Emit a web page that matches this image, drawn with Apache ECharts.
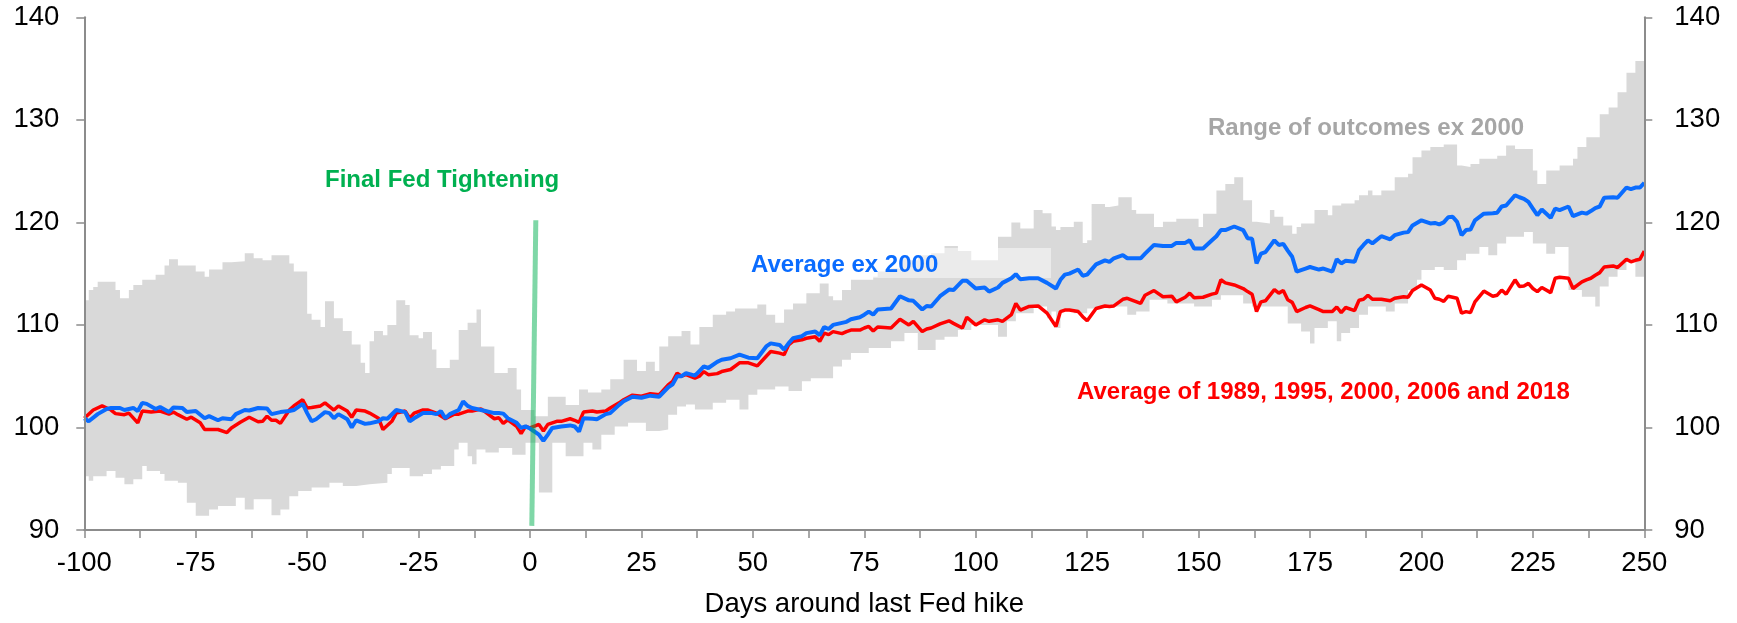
<!DOCTYPE html>
<html>
<head>
<meta charset="utf-8">
<script src="https://cdn.jsdelivr.net/npm/echarts@6/dist/echarts.min.js"></script>
<style>
html,body{margin:0;padding:0;background:#fff;}
#chart{width:1737px;height:623px;}
</style>
</head>
<body>
<div id="chart"></div>
<script>
// x-axis tick labels (days around last Fed hike)
var xTicks = [-100,-75,-50,-25,0,25,50,75,100,125,150,175,200,225,250];
var yTicks = [90,100,110,120,130,140];

// Average ex 2000 (blue) : [day, index]
var avgEx2000 = [[-100,100.9],[-99,100.6],[-97,101.3],[-95,101.8],[-94,101.9],[-92,101.9],[-91,101.7],[-89,101.9],[-88,101.6],[-87,102.4],[-86,102.3],[-84,101.8],[-83,102.0],[-81,101.5],[-80,101.95],[-78,101.9],[-77,101.5],[-75,101.6],[-73,100.9],[-72,101.1],[-70,100.7],[-69,100.9],[-67,100.8],[-66,101.3],[-64,101.7],[-63,101.65],[-61,101.9],[-59,101.85],[-58,101.3],[-56,101.5],[-54,101.6],[-53,101.7],[-51,102.3],[-50,101.4],[-49,100.6],[-48,100.8],[-46,101.5],[-45,101.4],[-44,100.9],[-43,101.3],[-41,100.8],[-40,100.0],[-39,100.7],[-37,100.35],[-36,100.4],[-34,100.6],[-33,100.9],[-32,100.85],[-30,101.7],[-28,101.5],[-27,100.6],[-26,100.9],[-24,101.4],[-22,101.4],[-21,101.3],[-20,101.6],[-19,100.9],[-18,101.3],[-16,101.7],[-15,102.55],[-14,102.1],[-13,101.9],[-12,101.8],[-10,101.6],[-8,101.4],[-7,101.4],[-6,101.35],[-5,100.9],[-3,100.45],[-2,99.95],[-1,100.1],[0,99.9],[2,99.3],[3,98.7],[4,99.3],[5,99.95],[7,100.1],[9,100.2],[10,100.1],[11,99.6],[12,100.9],[14,100.85],[15,100.8],[17,101.3],[18,101.4],[20,102.2],[21,102.55],[23,103.0],[25,102.9],[27,103.1],[29,103.0],[31,103.9],[32,104.2],[33,105.0],[34,105.0],[35,105.3],[37,105.05],[38,105.5],[39,105.95],[40,105.8],[42,106.4],[43,106.6],[45,106.75],[47,107.1],[49,106.8],[51,106.75],[53,107.9],[54,108.2],[56,108.05],[57,107.6],[58,108.2],[59,108.7],[61,108.9],[62,109.2],[64,109.35],[65,109.0],[66,109.8],[67,109.6],[68,110.0],[70,110.2],[71,110.3],[72,110.55],[74,110.75],[75,111.0],[76,111.3],[77,111.0],[78,111.5],[81,111.6],[83,112.8],[85,112.4],[86,112.35],[88,111.5],[89,111.85],[90,111.8],[92,112.8],[94,113.45],[95,113.4],[97,114.3],[98,114.3],[100,113.55],[102,113.65],[103,113.25],[105,113.65],[106,114.1],[108,114.55],[109,114.95],[110,114.45],[112,114.55],[114,114.55],[116,114.1],[118,113.55],[119,114.4],[120,114.9],[121,115.0],[123,115.4],[124,114.8],[125,114.9],[127,115.9],[129,116.3],[130,116.15],[131,116.5],[133,116.8],[134,116.5],[137,116.5],[138,116.95],[140,117.8],[142,117.7],[144,117.7],[145,118.0],[147,118.0],[148,118.25],[149,117.45],[151,117.45],[153,118.25],[154,118.65],[155,119.25],[156,119.25],[158,119.6],[160,119.25],[161,118.45],[162,118.4],[163,116.0],[164,116.95],[165,117.1],[167,118.25],[168,117.8],[169,117.9],[170,117.25],[171,116.65],[172,115.2],[174,115.5],[175,115.65],[177,115.4],[178,115.5],[180,115.2],[181,116.4],[182,116.0],[183,116.25],[185,116.15],[186,117.3],[187,117.8],[188,118.25],[189,117.95],[191,118.65],[193,118.35],[194,118.75],[196,119.0],[197,119.05],[198,119.7],[200,120.2],[202,119.9],[203,119.95],[204,119.8],[205,120.0],[206,120.5],[207,120.55],[208,120.05],[209,118.75],[210,119.25],[211,119.3],[212,120.2],[214,120.85],[216,120.9],[217,120.95],[218,121.55],[219,121.65],[221,122.65],[222,122.45],[223,122.3],[224,122.0],[225,121.35],[226,120.7],[227,121.25],[229,120.45],[230,121.35],[231,121.2],[233,121.55],[234,120.6],[236,120.95],[237,120.85],[238,121.1],[239,121.4],[240,121.55],[241,122.4],[243,122.45],[244,122.4],[246,123.4],[247,123.25],[248,123.4],[249,123.4],[250,123.85]];

// Average of 1989, 1995, 2000, 2006 and 2018 (red)
var avgAll = [[-100,100.9],[-98,101.7],[-96,102.1],[-94,101.7],[-93,101.35],[-91,101.25],[-90,101.4],[-88,100.45],[-87,101.6],[-85,101.5],[-83,101.6],[-81,101.3],[-80,101.5],[-79,101.25],[-77,100.8],[-76,101.0],[-74,100.45],[-73,99.8],[-71,99.8],[-70,99.8],[-68,99.5],[-67,99.95],[-65,100.5],[-63,101.0],[-61,100.55],[-60,100.6],[-59,101.1],[-58,100.7],[-57,100.7],[-56,100.4],[-54,101.7],[-53,102.1],[-51,102.7],[-50,101.9],[-49,101.95],[-47,102.1],[-46,102.4],[-44,101.7],[-43,102.1],[-41,101.6],[-40,101.0],[-39,101.7],[-37,101.6],[-36,101.4],[-34,100.9],[-33,99.8],[-31,100.6],[-30,101.4],[-28,101.6],[-27,100.9],[-26,101.4],[-24,101.7],[-23,101.7],[-21,101.4],[-19,100.85],[-17,101.3],[-16,101.3],[-14,101.6],[-13,101.6],[-11,101.8],[-10,101.5],[-8,100.85],[-7,100.95],[-6,100.4],[-5,100.75],[-3,100.1],[-2,99.4],[-1,100.1],[0,99.95],[2,100.3],[3,99.65],[4,100.3],[6,100.6],[7,100.6],[9,100.85],[10,100.7],[11,100.5],[12,101.5],[14,101.6],[15,101.5],[17,101.6],[18,101.9],[20,102.4],[21,102.7],[23,103.15],[25,103.05],[27,103.3],[29,103.2],[31,104.15],[32,104.5],[33,105.3],[34,105.0],[35,105.15],[37,104.8],[38,105.0],[39,105.45],[40,105.15],[42,105.25],[43,105.45],[45,105.65],[47,106.3],[49,106.3],[51,106.0],[53,106.95],[54,107.4],[56,107.25],[57,107.1],[58,108.05],[59,108.4],[61,108.55],[62,108.7],[64,108.85],[65,108.4],[66,109.2],[67,109.05],[68,109.35],[70,109.15],[71,109.35],[72,109.5],[74,109.5],[75,109.7],[76,109.85],[77,109.4],[78,109.8],[81,109.7],[83,110.55],[85,110.0],[86,110.35],[88,109.35],[89,109.6],[90,109.7],[92,110.1],[94,110.4],[95,110.15],[97,109.7],[98,110.75],[100,110.0],[102,110.5],[103,110.35],[105,110.5],[106,110.35],[108,111.0],[109,112.1],[110,111.45],[112,111.8],[114,111.85],[116,111.15],[118,109.85],[119,111.3],[120,111.45],[121,111.45],[123,111.3],[124,110.8],[125,110.4],[127,111.6],[129,111.85],[130,111.8],[131,111.85],[133,112.5],[134,112.6],[137,112.1],[138,112.9],[140,113.35],[142,112.75],[144,112.8],[145,112.25],[147,112.7],[148,113.1],[149,112.65],[151,112.7],[153,113.0],[154,113.1],[155,114.4],[156,114.1],[158,113.9],[160,113.55],[161,113.25],[162,113.0],[163,111.3],[164,112.25],[165,112.35],[167,113.45],[168,113.1],[169,113.35],[170,112.45],[171,112.2],[172,111.3],[174,111.7],[175,111.85],[177,111.5],[178,111.3],[180,111.3],[181,111.75],[182,111.2],[183,111.7],[185,111.4],[186,112.4],[187,112.5],[188,112.9],[189,112.5],[191,112.5],[193,112.35],[194,112.6],[196,112.75],[197,112.7],[198,113.35],[200,113.9],[202,113.4],[203,112.6],[204,112.5],[205,112.3],[206,112.8],[207,112.7],[208,112.6],[209,111.15],[210,111.3],[211,111.2],[212,112.25],[214,113.3],[216,112.8],[217,112.9],[218,113.4],[219,113.0],[221,114.4],[222,113.75],[223,113.8],[224,114.05],[225,113.55],[226,113.25],[227,113.65],[229,113.15],[230,114.55],[231,114.65],[233,114.55],[234,113.55],[236,114.2],[237,114.4],[238,114.55],[239,114.85],[240,115.1],[241,115.65],[243,115.75],[244,115.6],[246,116.4],[247,116.15],[248,116.3],[249,116.4],[250,117.2]];

// Range of outcomes ex 2000 : upper edge (value holds from that day until the next)
var rangeHigh = [[-100,112.4],[-99,113.4],[-98,113.7],[-97,114.2],[-93,113.4],[-92,112.6],[-90,113.4],[-89,113.9],[-87,114.4],[-84,114.9],[-82,115.8],[-81,116.4],[-79,115.8],[-75,115.2],[-73,114.7],[-72,115.4],[-69,116.1],[-67,116.2],[-64,117.0],[-62,116.5],[-60,116.3],[-58,116.8],[-54,116.0],[-53,115.2],[-50,111.1],[-49,110.5],[-47,109.8],[-46,112.3],[-44,110.65],[-42,109.4],[-40,108.1],[-38,106.3],[-37,105.3],[-36,108.4],[-35,109.4],[-33,109.0],[-32,110.0],[-30,112.4],[-28,111.95],[-27,109.0],[-25,108.7],[-24,109.3],[-22,107.6],[-21,105.8],[-18,106.6],[-16,109.5],[-14,110.2],[-12,111.5],[-11,107.9],[-8,105.3],[-5,105.8],[-3,103.7],[-2,101.7],[1,101.1],[4,103.0],[8,102.2],[11,103.7],[13,103.4],[16,103.7],[18,104.7],[21,106.6],[24,105.5],[26,106.4],[28,105.5],[29,107.9],[31,108.9],[34,109.4],[36,108.1],[38,109.8],[41,111.0],[44,111.3],[46,111.6],[51,112.0],[53,111.0],[55,110.2],[57,111.5],[59,112.1],[62,113.1],[65,114.05],[67,112.8],[68,112.4],[70,113.4],[72,114.4],[77,114.7],[78,115.2],[81,115.5],[83,116.5],[85,116.3],[87,116.8],[90,117.0],[93,117.7],[96,117.2],[99,116.3],[105,118.6],[108,120.0],[110,119.4],[113,121.2],[115,120.9],[117,119.6],[118,119.25],[119,119.55],[122,120.05],[124,118.0],[125,118.25],[126,121.8],[129,121.5],[130,121.65],[132,122.45],[135,121.2],[136,120.85],[140,119.55],[142,120.05],[145,120.35],[150,119.55],[151,120.85],[154,123.1],[156,123.75],[158,124.4],[160,122.15],[162,120.05],[163,119.9],[166,121.2],[167,120.55],[169,119.7],[171,118.9],[172,119.55],[173,119.9],[176,121.2],[179,120.7],[180,121.65],[182,121.85],[185,122.15],[186,122.65],[188,123.1],[189,122.65],[191,123.1],[194,124.4],[197,124.75],[198,126.35],[200,127.0],[202,127.35],[205,127.6],[208,125.55],[209,125.4],[211,125.7],[213,126.2],[217,126.5],[219,127.5],[221,127.15],[225,125.05],[226,123.75],[228,125.05],[231,125.55],[234,126.2],[235,127.35],[237,128.3],[240,130.55],[242,131.2],[244,132.7],[246,134.6],[248,135.75],[250,135.75]];

// Range of outcomes ex 2000 : lower edge
var rangeLow = [[-100,95.25],[-99,94.8],[-98,95.25],[-95,95.75],[-93,95.1],[-91,94.45],[-89,94.95],[-87,96.25],[-86,95.75],[-83,95.45],[-82,94.8],[-79,94.6],[-77,92.65],[-75,91.4],[-72,92.0],[-70,92.35],[-66,93.15],[-64,92.0],[-62,93.0],[-58,91.45],[-56,92.0],[-54,93.3],[-52,93.8],[-49,94.15],[-45,94.6],[-42,94.3],[-39,94.45],[-36,94.6],[-32,95.45],[-31,96.05],[-27,95.25],[-24,95.45],[-22,95.9],[-20,96.25],[-17,97.85],[-16,98.5],[-14,97.2],[-13,96.4],[-12,97.85],[-10,97.55],[-7,98.0],[-4,97.35],[-1,98.5],[2,93.65],[5,98.5],[8,97.2],[12,98.5],[14,97.85],[16,99.3],[19,100.1],[22,100.45],[26,99.65],[29,99.8],[31,101.25],[33,102.05],[35,102.25],[37,101.75],[41,102.4],[44,102.7],[47,101.75],[49,103.2],[51,103.7],[55,104.0],[58,103.55],[61,104.5],[63,104.8],[68,105.95],[70,106.6],[72,107.25],[76,107.75],[81,108.4],[84,109.2],[87,107.55],[91,108.55],[93,108.85],[96,109.5],[99,110.0],[105,108.85],[107,110.35],[109,111.15],[113,111.8],[116,110.65],[117,111.3],[118,109.7],[119,111.45],[122,111.15],[125,111.6],[128,111.8],[134,111.0],[136,111.3],[139,112.45],[143,112.1],[149,111.8],[153,112.45],[155,112.9],[160,112.1],[162,111.8],[170,110.15],[173,109.35],[175,108.2],[176,109.7],[179,110.35],[181,108.4],[182,109.2],[184,109.7],[186,111.0],[188,111.8],[192,111.3],[194,112.1],[197,113.4],[199,114.4],[200,115.35],[203,115.65],[205,115.35],[208,116.3],[210,116.95],[213,117.6],[215,116.8],[217,117.95],[219,118.6],[223,119.05],[225,117.95],[228,116.95],[230,117.6],[233,113.4],[236,112.75],[239,111.8],[240,113.75],[242,114.7],[244,115.35],[246,116.3],[248,114.7],[250,114.7]];

// Final Fed tightening marker
var finalHike = [[0.4,90.4],[1.3,120.2]];

var FONT = '"Liberation Sans", Arial, Helvetica, sans-serif';
var AXIS_GRAY = '#8c8c8c';

var chart = echarts.init(document.getElementById('chart'), null, {renderer:'canvas'});

function yAxisDef(pos, margin){
  return {
    type:'value', position:pos, min: yTicks[0], max: yTicks[yTicks.length-1], interval: 10,
    axisLine:{show:true, onZero:false, lineStyle:{color:AXIS_GRAY, width:2}},
    axisTick:{show:true, inside:false, length:8, lineStyle:{color:AXIS_GRAY, width:1.5}},
    splitLine:{show:false},
    axisLabel:{color:'#000', fontSize:27.5, fontFamily:FONT, margin:margin},
    z: 10
  };
}

var option = {
  backgroundColor:'#ffffff',
  animation:false,
  grid:{left:84.3, right:92.7, top:17.3, bottom:88.7, containLabel:false},
  xAxis:{
    type:'value', min:xTicks[0], max:xTicks[xTicks.length-1], interval:25,
    name:'Days around last Fed hike', nameLocation:'middle', nameGap:60,
    nameTextStyle:{color:'#000', fontSize:27.5, fontFamily:FONT},
    axisLine:{show:true, onZero:false, lineStyle:{color:AXIS_GRAY, width:2}},
    axisTick:{show:true, inside:false, length:8, lineStyle:{color:AXIS_GRAY, width:1.5}},
    minorTick:{show:true, splitNumber:2, length:8, lineStyle:{color:AXIS_GRAY, width:1.5}},
    splitLine:{show:false}, minorSplitLine:{show:false},
    axisLabel:{color:'#000', fontSize:27.5, fontFamily:FONT, margin:19},
    z: 10
  },
  yAxis:[ yAxisDef('left', 25), yAxisDef('right', 30) ],
  series:[
    {
      name:'Range high', type:'line', data:rangeHigh, step:'end', symbol:'none',
      lineStyle:{width:0}, areaStyle:{color:'#d9d9d9', opacity:1, origin:'start'},
      z:1, silent:true
    },
    {
      name:'Range low', type:'line', data:rangeLow, step:'end', symbol:'none',
      lineStyle:{width:0}, areaStyle:{color:'#ffffff', opacity:1, origin:'start'},
      z:1.5, silent:true
    },
    {
      name:'Average of 1989, 1995, 2000, 2006 and 2018', type:'line', data:avgAll, symbol:'none',
      lineStyle:{color:'#ff0000', width:3.5}, z:4
    },
    {
      name:'Average ex 2000', type:'line', data:avgEx2000, symbol:'none',
      lineStyle:{color:'#0a6cff', width:4}, z:5
    },
    {
      name:'Final Fed Tightening', type:'line', data:finalHike, symbol:'none',
      lineStyle:{color:'rgba(0,176,80,0.5)', width:5}, z:6
    }
  ],
  graphic:[
    {type:'rect', shape:{x:744, y:248, width:307, height:30}, style:{fill:'rgba(255,255,255,0.47)'}, z:3, silent:true},
    {type:'text', style:{x:751, y:265, text:'Average ex 2000', fill:'#0a6cff', font:'bold 24px '+FONT, verticalAlign:'middle', align:'left'}, z:20},
    {type:'text', style:{x:325, y:180, text:'Final Fed Tightening', fill:'#00b050', font:'bold 24px '+FONT, verticalAlign:'middle', align:'left'}, z:20},
    {type:'text', style:{x:1208, y:128, text:'Range of outcomes ex 2000', fill:'#a6a6a6', font:'bold 24px '+FONT, verticalAlign:'middle', align:'left'}, z:20},
    {type:'text', style:{x:1077, y:392, text:'Average of 1989, 1995, 2000, 2006 and 2018', fill:'#ff0000', font:'bold 24px '+FONT, verticalAlign:'middle', align:'left'}, z:20}
  ]
};
chart.setOption(option);
</script>
</body>
</html>
